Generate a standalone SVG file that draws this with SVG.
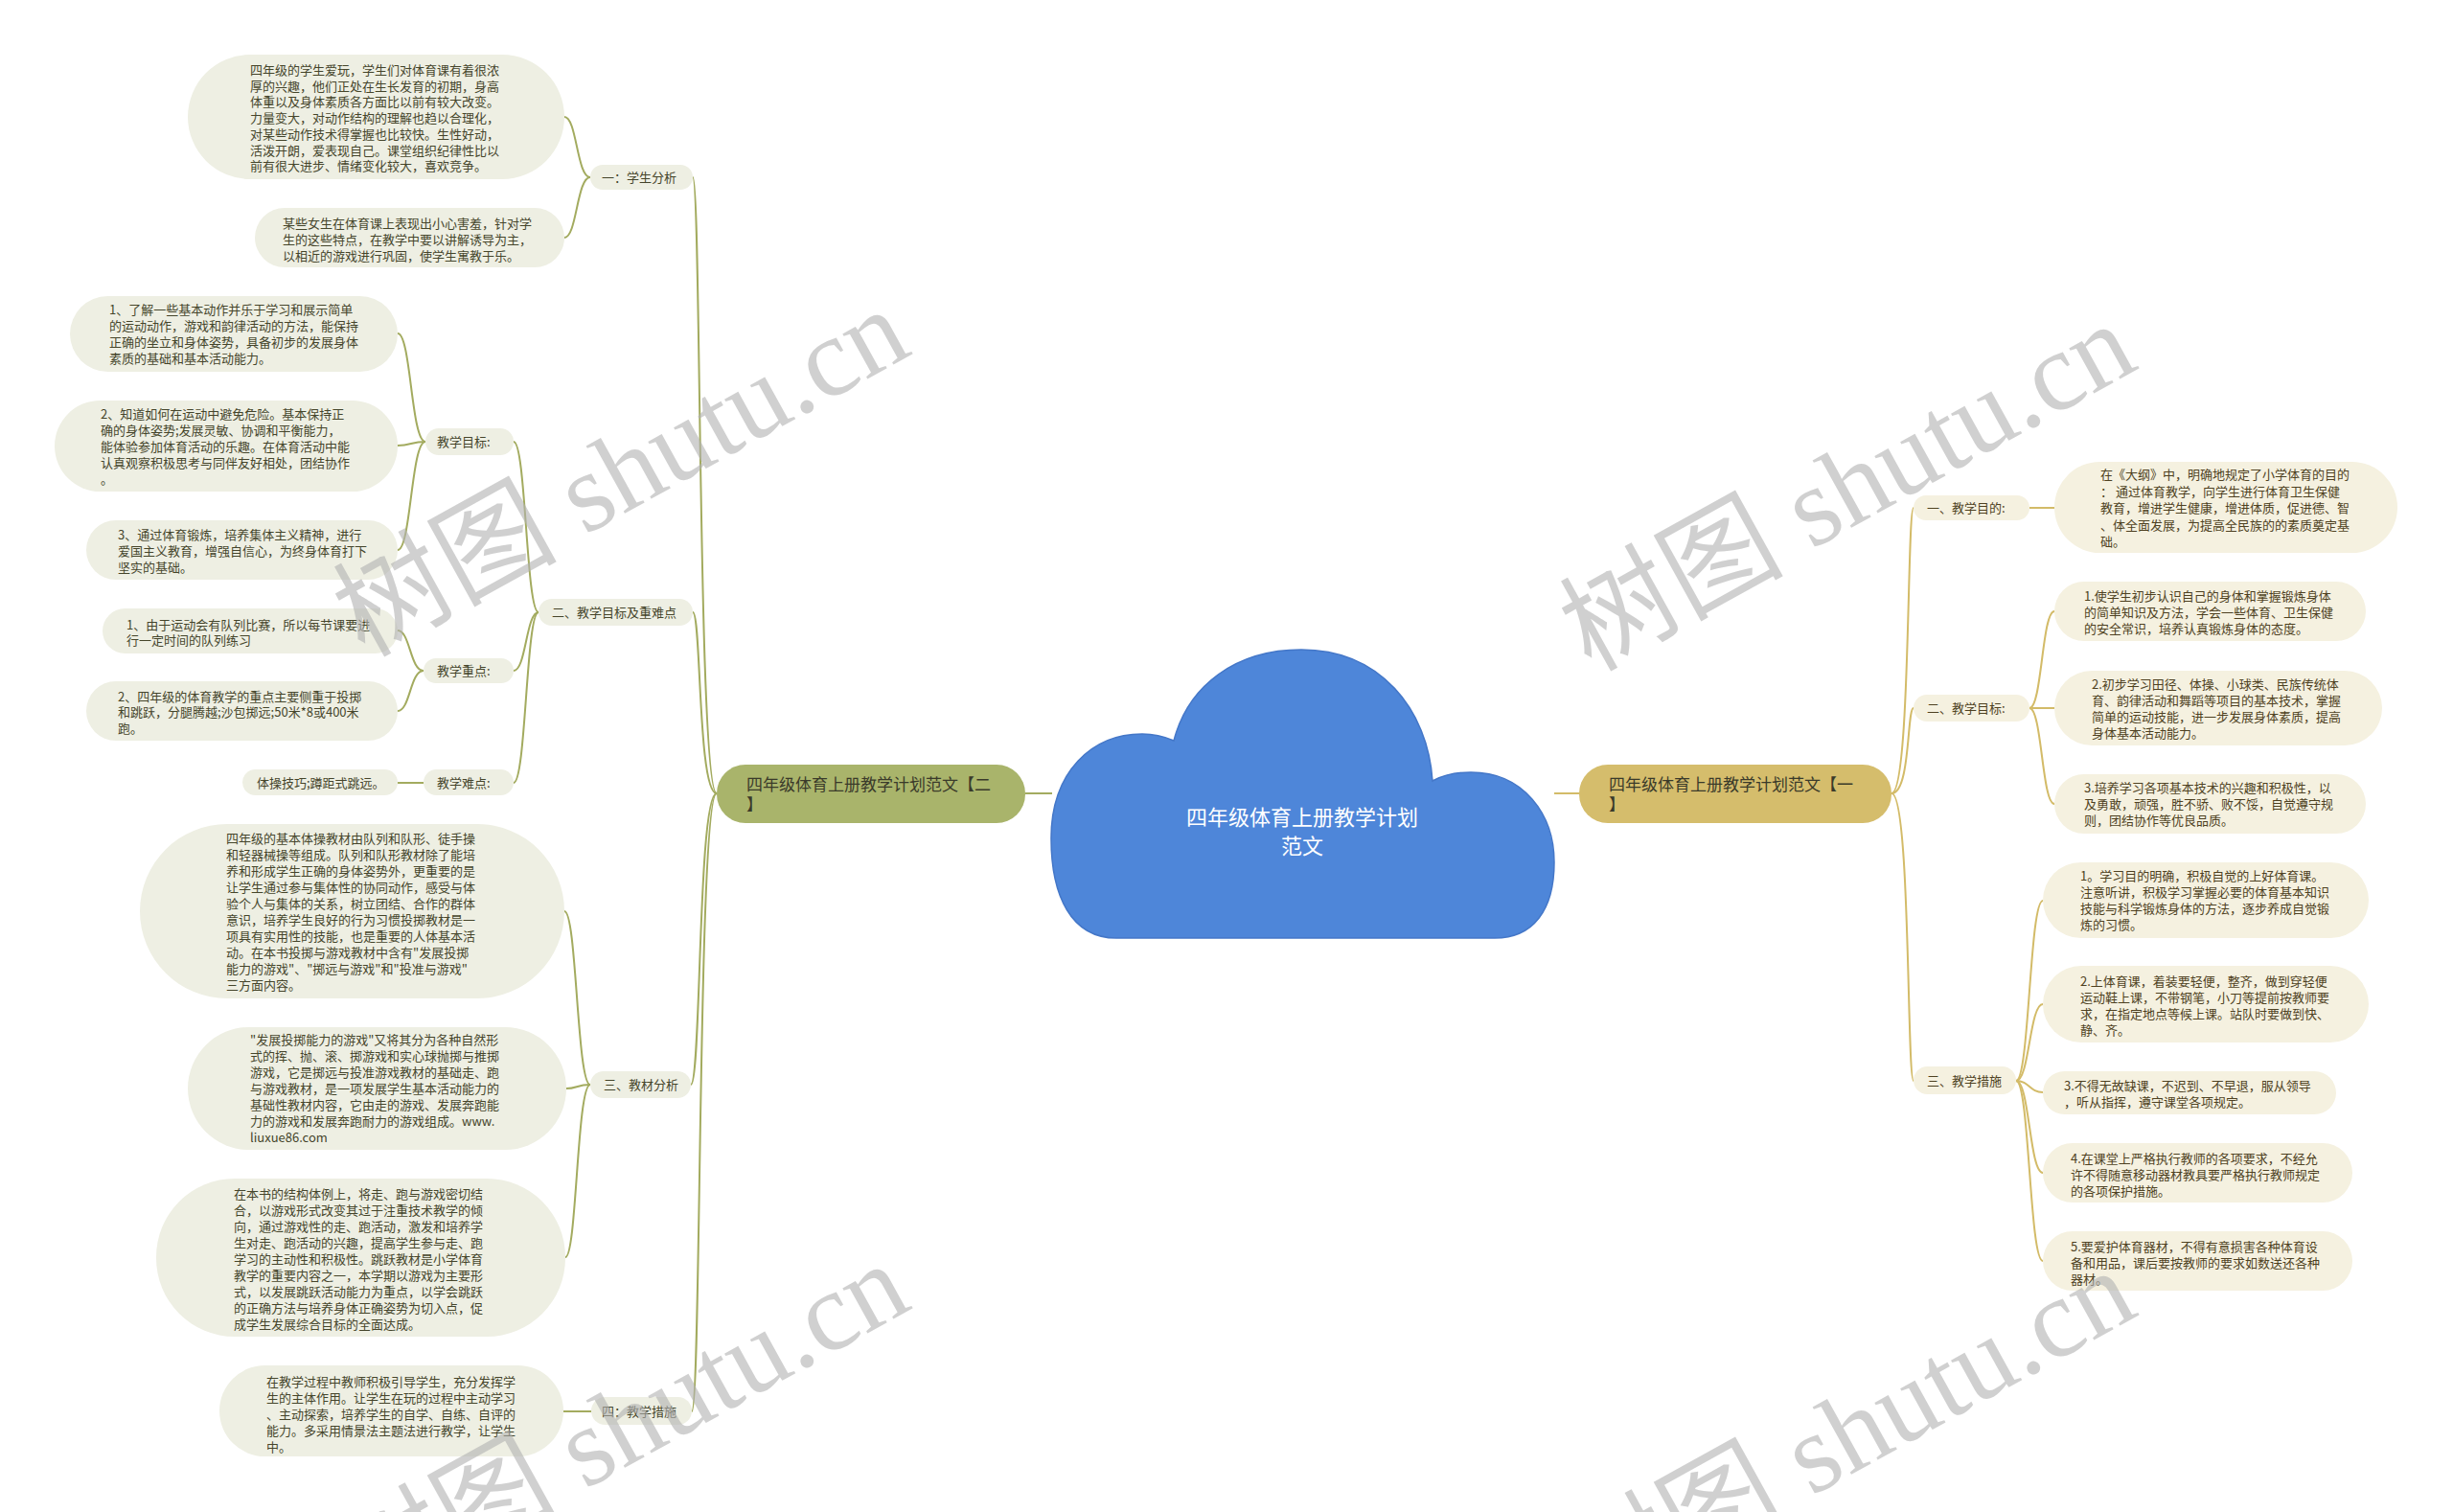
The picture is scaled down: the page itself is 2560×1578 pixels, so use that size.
<svg xmlns="http://www.w3.org/2000/svg" width="2560" height="1578" viewBox="0 0 2560 1578">
<style>
.bg{fill:#ffffff}
.lb{fill:#eeefe3}
.rb{fill:#f5f1e0}
.t{font-family:"Noto Sans CJK SC","Noto Sans",sans-serif;font-size:13px}
.lt{fill:#45452b}
.rt{fill:#4e4122}
.lc{fill:none;stroke:#a3ab5f;stroke-width:2}
.rc{fill:none;stroke:#d3bb68;stroke-width:2}
.mt{font-family:"Noto Sans CJK SC","Noto Sans",sans-serif;font-size:17px;fill:#3a3a2a}
.ct{font-family:"Noto Sans CJK SC","Noto Sans",sans-serif;font-size:22px;fill:#ffffff}
.wm{font-family:"Liberation Serif","Noto Sans CJK SC",serif;font-size:117px;fill:#b2b2b2;opacity:0.6}
</style>
<rect class="bg" x="0" y="0" width="2560" height="1578"/>

<g id="connectors">
  <path class="lc" d="M748 828 C728 828 732 185 723 185"/>
  <path class="lc" d="M748 828 C728 828 732 639 723 639"/>
  <path class="lc" d="M748 828 C728 828 732 1132 721 1132"/>
  <path class="lc" d="M748 828 C728 828 732 1473 722 1473"/>
  <path class="lc" d="M616 185 C602 185 602 122 589 122"/>
  <path class="lc" d="M616 185 C602 185 602 248 589 248"/>
  <path class="lc" d="M562 639 C549 639 549 461 536 461"/>
  <path class="lc" d="M562 639 C549 639 549 700 536 700"/>
  <path class="lc" d="M562 639 C549 639 549 817 536 817"/>
  <path class="lc" d="M444 461 C429 461 429 348 415 348"/>
  <path class="lc" d="M444 461 C429 461 429 465 415 465"/>
  <path class="lc" d="M444 461 C429 461 429 574 415 574"/>
  <path class="lc" d="M442 700 C428 700 428 658 415 658"/>
  <path class="lc" d="M442 700 C428 700 428 742 415 742"/>
  <path class="lc" d="M442 817 L415 817"/>
  <path class="lc" d="M616 1132 C602 1132 602 951 589 951"/>
  <path class="lc" d="M616 1132 C602 1132 602 1136 591 1136"/>
  <path class="lc" d="M616 1132 C602 1132 602 1312 590 1312"/>
  <path class="lc" d="M617 1473 L588 1473"/>
  <path class="lc" d="M1070 828 L1098 828"/>
  <path class="rc" d="M1622 828 L1648 828"/>
  <path class="rc" d="M1974 828 C1994 828 1990 530 1997 530"/>
  <path class="rc" d="M1974 828 C1994 828 1990 739 1997 739"/>
  <path class="rc" d="M1974 828 C1994 828 1990 1128 1997 1128"/>
  <path class="rc" d="M2118 530 L2144 530"/>
  <path class="rc" d="M2118 739 C2131 739 2131 638 2144 638"/>
  <path class="rc" d="M2118 739 L2144 739"/>
  <path class="rc" d="M2118 739 C2131 739 2131 839 2144 839"/>
  <path class="rc" d="M2104 1128 C2118 1128 2118 940 2132 940"/>
  <path class="rc" d="M2104 1128 C2118 1128 2118 1048 2132 1048"/>
  <path class="rc" d="M2104 1128 C2118 1128 2118 1140 2132 1140"/>
  <path class="rc" d="M2104 1128 C2118 1128 2118 1224 2132 1224"/>
  <path class="rc" d="M2104 1128 C2118 1128 2118 1316 2132 1316"/>
</g>

<g id="center">
  <path d="M1165 979 C1118 979 1097 935 1097 875 C1097 805 1140 766 1192 766 C1208 766 1218 770 1225 773 C1240 715 1290 678 1358 678 C1440 678 1490 740 1495 815 C1508 808 1520 806 1535 806 C1590 806 1622 850 1622 900 C1622 950 1600 979 1560 979 Z" fill="#4e86d9" stroke="#4477c8" stroke-width="1.5"/>
  <text class="ct" x="1359" y="861" text-anchor="middle">四年级体育上册教学计划</text>
  <text class="ct" x="1359" y="891" text-anchor="middle">范文</text>
</g>

<g id="main-left">
  <rect x="748" y="798" width="322" height="61" rx="30" fill="#a9b46b"/>
  <text class="mt" x="779" y="825">四年级体育上册教学计划范文【二</text>
  <text class="mt" x="779" y="846">】</text>
</g>
<g id="main-right">
  <rect x="1648" y="798" width="326" height="61" rx="30" fill="#d5bd6c"/>
  <text class="mt" x="1679" y="825">四年级体育上册教学计划范文【一</text>
  <text class="mt" x="1679" y="846">】</text>
</g>

<g id="l1">
  <rect class="lb" x="616" y="172" width="107" height="26" rx="13"/>
  <text class="t lt" x="628" y="190">一：学生分析</text>
</g>
<g id="l1a">
  <rect class="lb" x="196" y="57" width="393" height="130" rx="65"/>
  <text class="t lt"><tspan x="261" y="78">四年级的学生爱玩，学生们对体育课有着很浓</tspan><tspan x="261" y="94.7">厚的兴趣，他们正处在生长发育的初期，身高</tspan><tspan x="261" y="111.4">体重以及身体素质各方面比以前有较大改变。</tspan><tspan x="261" y="128.1">力量变大，对动作结构的理解也趋以合理化，</tspan><tspan x="261" y="144.8">对某些动作技术得掌握也比较快。生性好动，</tspan><tspan x="261" y="161.5">活泼开朗，爱表现自己。课堂组织纪律性比以</tspan><tspan x="261" y="178.2">前有很大进步、情绪变化较大，喜欢竞争。</tspan></text>
</g>
<g id="l1b">
  <rect class="lb" x="266" y="217" width="323" height="62" rx="31"/>
  <text class="t lt"><tspan x="295" y="238">某些女生在体育课上表现出小心害羞，针对学</tspan><tspan x="295" y="255">生的这些特点，在教学中要以讲解诱导为主，</tspan><tspan x="295" y="272">以相近的游戏进行巩固，使学生寓教于乐。</tspan></text>
</g>

<g id="l2">
  <rect class="lb" x="562" y="625" width="161" height="28" rx="14"/>
  <text class="t lt" x="576" y="644">二、教学目标及重难点</text>
</g>
<g id="l2-goal">
  <rect class="lb" x="444" y="447" width="92" height="28" rx="14"/>
  <text class="t lt" x="456" y="466">教学目标:</text>
</g>
<g id="l2-goal1">
  <rect class="lb" x="73" y="309" width="342" height="79" rx="39.5"/>
  <text class="t lt"><tspan x="114" y="328">1、了解一些基本动作并乐于学习和展示简单</tspan><tspan x="114" y="345">的运动动作，游戏和韵律活动的方法，能保持</tspan><tspan x="114" y="362">正确的坐立和身体姿势，具备初步的发展身体</tspan><tspan x="114" y="379">素质的基础和基本活动能力。</tspan></text>
</g>
<g id="l2-goal2">
  <rect class="lb" x="57" y="418" width="358" height="95" rx="47.5"/>
  <text class="t lt"><tspan x="105" y="437">2、知道如何在运动中避免危险。基本保持正</tspan><tspan x="105" y="454">确的身体姿势;发展灵敏、协调和平衡能力，</tspan><tspan x="105" y="471">能体验参加体育活动的乐趣。在体育活动中能</tspan><tspan x="105" y="488">认真观察积极思考与同伴友好相处，团结协作</tspan><tspan x="105" y="505">。</tspan></text>
</g>
<g id="l2-goal3">
  <rect class="lb" x="90" y="543" width="325" height="62" rx="31"/>
  <text class="t lt"><tspan x="123" y="563">3、通过体育锻炼，培养集体主义精神，进行</tspan><tspan x="123" y="580">爱国主义教育，增强自信心，为终身体育打下</tspan><tspan x="123" y="597">坚实的基础。</tspan></text>
</g>
<g id="l2-key">
  <rect class="lb" x="442" y="687" width="94" height="26" rx="13"/>
  <text class="t lt" x="456" y="705">教学重点:</text>
</g>
<g id="l2-key1">
  <rect class="lb" x="107" y="635" width="308" height="47" rx="23.5"/>
  <text class="t lt"><tspan x="132" y="657">1、由于运动会有队列比赛，所以每节课要进</tspan><tspan x="132" y="673">行一定时间的队列练习</tspan></text>
</g>
<g id="l2-key2">
  <rect class="lb" x="90" y="711" width="325" height="62" rx="31"/>
  <text class="t lt"><tspan x="123" y="732">2、四年级的体育教学的重点主要侧重于投掷</tspan><tspan x="123" y="748">和跳跃，分腿腾越;沙包掷远;50米*8或400米</tspan><tspan x="123" y="765">跑。</tspan></text>
</g>
<g id="l2-hard">
  <rect class="lb" x="442" y="803" width="94" height="27" rx="13.5"/>
  <text class="t lt" x="456" y="822">教学难点:</text>
</g>
<g id="l2-hard1">
  <rect class="lb" x="253" y="803" width="162" height="27" rx="13.5"/>
  <text class="t lt" x="268" y="822">体操技巧;蹲距式跳远。</text>
</g>

<g id="l3">
  <rect class="lb" x="616" y="1118" width="105" height="28" rx="14"/>
  <text class="t lt" x="630" y="1137">三、教材分析</text>
</g>
<g id="l3a">
  <rect class="lb" x="146" y="860" width="443" height="182" rx="91"/>
  <text class="t lt"><tspan x="236" y="880">四年级的基本体操教材由队列和队形、徒手操</tspan><tspan x="236" y="897">和轻器械操等组成。队列和队形教材除了能培</tspan><tspan x="236" y="914">养和形成学生正确的身体姿势外，更重要的是</tspan><tspan x="236" y="931">让学生通过参与集体性的协同动作，感受与体</tspan><tspan x="236" y="948">验个人与集体的关系，树立团结、合作的群体</tspan><tspan x="236" y="965">意识，培养学生良好的行为习惯投掷教材是一</tspan><tspan x="236" y="982">项具有实用性的技能，也是重要的人体基本活</tspan><tspan x="236" y="999">动。在本书投掷与游戏教材中含有"发展投掷</tspan><tspan x="236" y="1016">能力的游戏"、"掷远与游戏"和"投准与游戏"</tspan><tspan x="236" y="1033">三方面内容。</tspan></text>
</g>
<g id="l3b">
  <rect class="lb" x="196" y="1072" width="395" height="128" rx="64"/>
  <text class="t lt"><tspan x="261" y="1090">"发展投掷能力的游戏"又将其分为各种自然形</tspan><tspan x="261" y="1107">式的挥、抛、滚、掷游戏和实心球抛掷与推掷</tspan><tspan x="261" y="1124">游戏，它是掷远与投准游戏教材的基础走、跑</tspan><tspan x="261" y="1141">与游戏教材，是一项发展学生基本活动能力的</tspan><tspan x="261" y="1158">基础性教材内容，它由走的游戏、发展奔跑能</tspan><tspan x="261" y="1175">力的游戏和发展奔跑耐力的游戏组成。www.</tspan><tspan x="261" y="1192">liuxue86.com</tspan></text>
</g>
<g id="l3c">
  <rect class="lb" x="163" y="1230" width="427" height="165" rx="82"/>
  <text class="t lt"><tspan x="244" y="1251">在本书的结构体例上，将走、跑与游戏密切结</tspan><tspan x="244" y="1268">合，以游戏形式改变其过于注重技术教学的倾</tspan><tspan x="244" y="1285">向，通过游戏性的走、跑活动，激发和培养学</tspan><tspan x="244" y="1302">生对走、跑活动的兴趣，提高学生参与走、跑</tspan><tspan x="244" y="1319">学习的主动性和积极性。跳跃教材是小学体育</tspan><tspan x="244" y="1336">教学的重要内容之一，本学期以游戏为主要形</tspan><tspan x="244" y="1353">式，以发展跳跃活动能力为重点，以学会跳跃</tspan><tspan x="244" y="1370">的正确方法与培养身体正确姿势为切入点，促</tspan><tspan x="244" y="1387">成学生发展综合目标的全面达成。</tspan></text>
</g>

<g id="l4">
  <rect class="lb" x="617" y="1458" width="105" height="29" rx="14.5"/>
  <text class="t lt" x="628" y="1478">四：教学措施</text>
</g>
<g id="l4a">
  <rect class="lb" x="229" y="1425" width="359" height="95" rx="47.5"/>
  <text class="t lt"><tspan x="278" y="1447">在教学过程中教师积极引导学生，充分发挥学</tspan><tspan x="278" y="1464">生的主体作用。让学生在玩的过程中主动学习</tspan><tspan x="278" y="1481">、主动探索，培养学生的自学、自练、自评的</tspan><tspan x="278" y="1498">能力。多采用情景法主题法进行教学，让学生</tspan><tspan x="278" y="1515">中。</tspan></text>
</g>

<g id="r1">
  <rect class="rb" x="1997" y="517" width="121" height="26" rx="13"/>
  <text class="t rt" x="2011" y="535">一、教学目的:</text>
</g>
<g id="r1a">
  <rect class="rb" x="2144" y="482" width="358" height="95" rx="47.5"/>
  <text class="t rt"><tspan x="2192" y="500">在《大纲》中，明确地规定了小学体育的目的</tspan><tspan x="2192" y="517.5">： 通过体育教学，向学生进行体育卫生保健</tspan><tspan x="2192" y="535">教育，增进学生健康，增进体质，促进德、智</tspan><tspan x="2192" y="552.5">、体全面发展，为提高全民族的的素质奠定基</tspan><tspan x="2192" y="570">础。</tspan></text>
</g>
<g id="r2">
  <rect class="rb" x="1997" y="725" width="121" height="28" rx="14"/>
  <text class="t rt" x="2011" y="744">二、教学目标:</text>
</g>
<g id="r2a">
  <rect class="rb" x="2144" y="607" width="325" height="62" rx="31"/>
  <text class="t rt"><tspan x="2175" y="627">1.使学生初步认识自己的身体和掌握锻炼身体</tspan><tspan x="2175" y="644">的简单知识及方法，学会一些体育、卫生保健</tspan><tspan x="2175" y="661">的安全常识，培养认真锻炼身体的态度。</tspan></text>
</g>
<g id="r2b">
  <rect class="rb" x="2144" y="700" width="342" height="78" rx="39"/>
  <text class="t rt"><tspan x="2183" y="719">2.初步学习田径、体操、小球类、民族传统体</tspan><tspan x="2183" y="736">育、韵律活动和舞蹈等项目的基本技术，掌握</tspan><tspan x="2183" y="753">简单的运动技能，进一步发展身体素质，提高</tspan><tspan x="2183" y="770">身体基本活动能力。</tspan></text>
</g>
<g id="r2c">
  <rect class="rb" x="2144" y="808" width="325" height="62" rx="31"/>
  <text class="t rt"><tspan x="2175" y="827">3.培养学习各项基本技术的兴趣和积极性，以</tspan><tspan x="2175" y="844">及勇敢，顽强，胜不骄、败不馁，自觉遵守规</tspan><tspan x="2175" y="861">则，团结协作等优良品质。</tspan></text>
</g>
<g id="r3">
  <rect class="rb" x="1997" y="1113" width="107" height="29" rx="14.5"/>
  <text class="t rt" x="2011" y="1133">三、教学措施</text>
</g>
<g id="r3a">
  <rect class="rb" x="2132" y="900" width="340" height="79" rx="39.5"/>
  <text class="t rt"><tspan x="2171" y="919">1。学习目的明确，积极自觉的上好体育课。</tspan><tspan x="2171" y="936">注意听讲，积极学习掌握必要的体育基本知识</tspan><tspan x="2171" y="953">技能与科学锻炼身体的方法，逐步养成自觉锻</tspan><tspan x="2171" y="970">炼的习惯。</tspan></text>
</g>
<g id="r3b">
  <rect class="rb" x="2132" y="1008" width="340" height="80" rx="40"/>
  <text class="t rt"><tspan x="2171" y="1029">2.上体育课，着装要轻便，整齐，做到穿轻便</tspan><tspan x="2171" y="1046">运动鞋上课，不带钢笔，小刀等提前按教师要</tspan><tspan x="2171" y="1063">求，在指定地点等候上课。站队时要做到快、</tspan><tspan x="2171" y="1080">静、齐。</tspan></text>
</g>
<g id="r3c">
  <rect class="rb" x="2132" y="1118" width="306" height="45" rx="22.5"/>
  <text class="t rt"><tspan x="2154" y="1138">3.不得无故缺课，不迟到、不早退，服从领导</tspan><tspan x="2154" y="1155">，听从指挥，遵守课堂各项规定。</tspan></text>
</g>
<g id="r3d">
  <rect class="rb" x="2132" y="1193" width="323" height="62" rx="31"/>
  <text class="t rt"><tspan x="2161" y="1214">4.在课堂上严格执行教师的各项要求，不经允</tspan><tspan x="2161" y="1231">许不得随意移动器材教具要严格执行教师规定</tspan><tspan x="2161" y="1248">的各项保护措施。</tspan></text>
</g>
<g id="r3e">
  <rect class="rb" x="2132" y="1285" width="323" height="62" rx="31"/>
  <text class="t rt"><tspan x="2161" y="1306">5.要爱护体育器材，不得有意损害各种体育设</tspan><tspan x="2161" y="1323">备和用品，课后要按教师的要求如数送还各种</tspan><tspan x="2161" y="1340">器材。</tspan></text>
</g>

<g id="watermarks">
  <text class="wm" x="650" y="532" text-anchor="middle" transform="rotate(-29 650 497)">树图 shutu.cn</text>
  <text class="wm" x="1930" y="547" text-anchor="middle" transform="rotate(-29 1930 512)">树图 shutu.cn</text>
  <text class="wm" x="650" y="1528" text-anchor="middle" transform="rotate(-29 650 1493)">树图 shutu.cn</text>
  <text class="wm" x="1930" y="1535" text-anchor="middle" transform="rotate(-29 1930 1500)">树图 shutu.cn</text>
</g>
</svg>
